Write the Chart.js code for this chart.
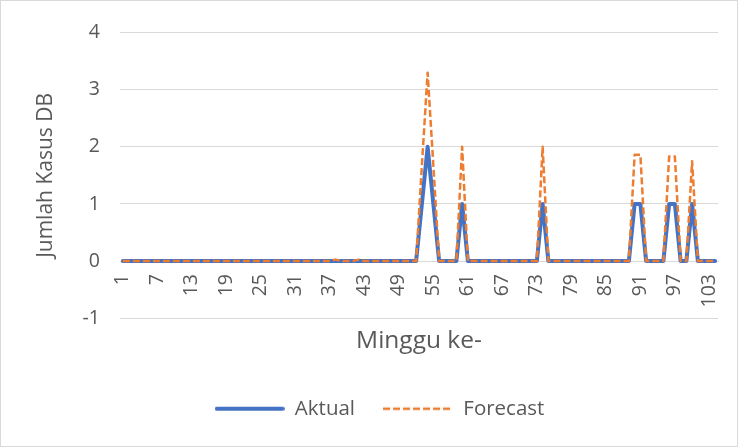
<!DOCTYPE html>
<html>
<head>
<meta charset="utf-8">
<script src="https://cdn.jsdelivr.net/npm/chart.js@4/dist/chart.umd.min.js"></script>
<style>
  html, body { margin: 0; padding: 0; background: #ffffff; }
  #wrap { position: relative; width: 738px; height: 447px; box-sizing: border-box; border: 1px solid #d9d9d9; }
  canvas { display: block; }
</style>
</head>
<body>
<div id="wrap"><canvas id="c" width="736" height="445"></canvas></div>
<script>
// Week numbers (category axis)
const weeks = [
  1, 2, 3, 4, 5, 6, 7, 8, 9, 10, 11, 12, 13, 14, 15, 16, 17, 18, 19, 20,
  21, 22, 23, 24, 25, 26, 27, 28, 29, 30, 31, 32, 33, 34, 35, 36, 37, 38, 39, 40,
  41, 42, 43, 44, 45, 46, 47, 48, 49, 50, 51, 52, 53, 54, 55, 56, 57, 58, 59, 60,
  61, 62, 63, 64, 65, 66, 67, 68, 69, 70, 71, 72, 73, 74, 75, 76, 77, 78, 79, 80,
  81, 82, 83, 84, 85, 86, 87, 88, 89, 90, 91, 92, 93, 94, 95, 96, 97, 98, 99, 100,
  101, 102, 103, 104
];

// Observed dengue cases per week
const aktual = [
  0, 0, 0, 0, 0, 0, 0, 0, 0, 0, 0, 0, 0, 0, 0, 0, 0, 0, 0, 0,
  0, 0, 0, 0, 0, 0, 0, 0, 0, 0, 0, 0, 0, 0, 0, 0, 0, 0, 0, 0,
  0, 0, 0, 0, 0, 0, 0, 0, 0, 0, 0, 0, 1, 2, 1, 0, 0, 0, 0, 1,
  0, 0, 0, 0, 0, 0, 0, 0, 0, 0, 0, 0, 0, 1, 0, 0, 0, 0, 0, 0,
  0, 0, 0, 0, 0, 0, 0, 0, 0, 1, 1, 0, 0, 0, 0, 1, 1, 0, 0, 1,
  0, 0, 0, 0
];

// Forecast cases per week
const forecast = [
  0, 0, 0, 0, 0, 0, 0, 0, 0, 0, 0, 0, 0, 0, 0, 0, 0, 0, 0, 0,
  0, 0, 0, 0, 0, 0, 0, 0, 0, 0, 0, 0, 0, 0, 0, 0, 0, 0.025, 0, 0,
  0, 0.025, 0, 0, 0, 0, 0, 0, 0, 0, 0, 0, 1.67, 3.3, 1.67, 0, 0, 0, 0, 2.0,
  0, 0, 0, 0, 0, 0, 0, 0, 0, 0, 0, 0, 0, 2.0, 0, 0, 0, 0, 0, 0,
  0, 0, 0, 0, 0, 0, 0, 0, 0, 1.86, 1.86, 0, 0, 0, 0, 1.83, 1.83, 0, 0, 1.75,
  0, 0, 0, 0
];

// Y axis tick values
const yTicks = [-1, 0, 1, 2, 3, 4];

const FONT = "'Open Sans', 'Liberation Sans', sans-serif";
const TEXT = '#595959';
const GRID = '#d9d9d9';
const BLUE = '#4472c4';
const ORANGE = '#ed7d31';

// Small line swatches used as legend symbols
function swatch(color, width, dash) {
  const cv = document.createElement('canvas');
  cv.width = 70;
  cv.height = 8;
  const g = cv.getContext('2d');
  g.strokeStyle = color;
  g.lineWidth = width;
  g.lineCap = dash.length ? 'butt' : 'round';
  g.setLineDash(dash);
  g.beginPath();
  g.moveTo(dash.length ? 0 : 2, 4);
  g.lineTo(dash.length ? 70 : 68, 4);
  g.stroke();
  return cv;
}

// Horizontal scales should not widen the side margins for their labels
function noSidePadding(scale) {
  scale.paddingLeft = 0;
  scale.paddingRight = 0;
}

// Nudges the legend row a little to the right of the canvas centre
const legendShift = {
  id: 'legendShift',
  afterLayout(chart) {
    const lg = chart.legend;
    if (!lg) return;
    lg.left += 6;
    lg.right += 6;
  }
};

new Chart(document.getElementById('c'), {
  type: 'line',
  data: {
    labels: weeks,
    datasets: [
      {
        label: 'Aktual',
        data: aktual,
        xAxisID: 'x',
        order: 2,
        borderColor: BLUE,
        backgroundColor: BLUE,
        borderWidth: 4,
        pointRadius: 0,
        pointHoverRadius: 0,
        pointStyle: swatch(BLUE, 4, []),
        tension: 0,
        borderJoinStyle: 'round',
        borderCapStyle: 'round'
      },
      {
        label: 'Forecast',
        data: forecast,
        xAxisID: 'x',
        order: 1,
        borderColor: ORANGE,
        backgroundColor: ORANGE,
        borderWidth: 2.5,
        borderDash: [7, 3],
        pointRadius: 0,
        pointHoverRadius: 0,
        pointStyle: swatch(ORANGE, 2.5, [7, 3]),
        tension: 0,
        borderJoinStyle: 'round'
      }
    ]
  },
  plugins: [legendShift],
  options: {
    responsive: false,
    animation: false,
    layout: { padding: { left: 28, right: 19, top: 25, bottom: 17 } },
    plugins: {
      legend: {
        position: 'bottom',
        labels: {
          usePointStyle: true,
          pointStyleWidth: 70,
          padding: 28,
          color: TEXT,
          font: { family: FONT, size: 20.5 },
          sort: function (a, b) { return a.datasetIndex - b.datasetIndex; }
        }
      },
      tooltip: { enabled: false }
    },
    scales: {
      x: {
        type: 'category',
        position: { y: 0 },
        offset: true,
        afterFit: noSidePadding,
        grid: { display: false, drawTicks: false },
        border: { display: true, color: GRID, width: 1 },
        ticks: {
          autoSkip: false,
          minRotation: 90,
          maxRotation: 90,
          padding: 13,
          color: TEXT,
          font: { family: FONT, size: 19.5 },
          callback: function (v, i) { return i % 6 === 0 ? weeks[i] : ''; }
        }
      },
      // Bottom axis that only carries the horizontal axis title
      xTitle: {
        type: 'category',
        position: 'bottom',
        labels: [''],
        afterFit: noSidePadding,
        grid: { display: false, drawTicks: false },
        border: { display: false },
        ticks: { display: false },
        title: {
          display: true,
          text: 'Minggu ke-',
          color: TEXT,
          font: { family: FONT, size: 24.5 },
          padding: { top: 8, bottom: 15 }
        }
      },
      y: {
        min: -1,
        max: 4,
        afterBuildTicks: function (scale) { scale.ticks = yTicks.map(v => ({ value: v })); },
        afterFit: function (scale) { scale.width = 91; },
        grid: { color: GRID, lineWidth: 1, drawTicks: false },
        border: { display: false },
        ticks: {
          padding: 20,
          color: TEXT,
          font: { family: FONT, size: 19.5 }
        },
        title: {
          display: true,
          text: 'Jumlah Kasus DB',
          color: TEXT,
          font: { family: FONT, size: 21 },
          padding: { top: 4, bottom: 4 }
        }
      }
    }
  }
});
</script>
</body>
</html>
